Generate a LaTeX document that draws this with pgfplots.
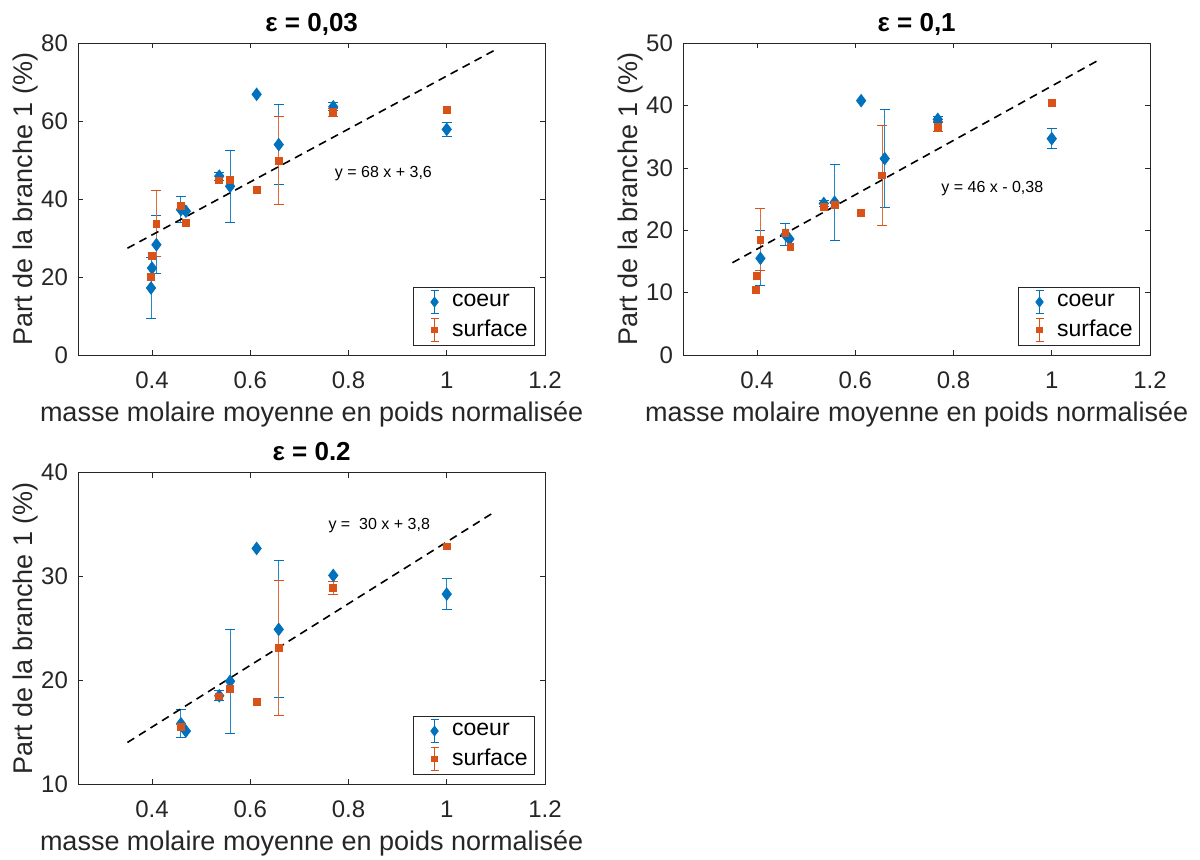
\documentclass[border=0pt]{standalone}
\usepackage{fontspec}
\setmainfont{Liberation Sans}
\usepackage{pgfplots}
\pgfplotsset{compat=1.18}
\definecolor{mblue}{RGB}{0,114,189}
\definecolor{morange}{RGB}{217,83,25}
\definecolor{axgray}{RGB}{38,38,38}

\tikzset{ann/.style={anchor=base west, font=\fontsize{8}{10}\selectfont, text=black}}
\pgfplotsset{
  myax/.style={
    scale only axis, width=233.35pt, height=155.85pt,
    xmin=0.25, xmax=1.2,
    xtick={0.4,0.6,0.8,1,1.2}, xticklabels={0.4,0.6,0.8,1,1.2},
    /pgf/number format/assume math mode=true,
    tick align=inside, major tick length=2.5pt,
    axis line style={axgray, line width=0.4pt},
    tick style={axgray, line width=0.4pt},
    ticklabel style={font=\fontsize{12}{14}\selectfont, text=axgray},
    xticklabel style={anchor=base, inner sep=0pt, yshift=-17pt},
    yticklabel style={anchor=east, inner sep=0pt, xshift=-5pt},
    every axis x label/.style={at={([yshift=-33.3pt]axis description cs:0.5,0)}, anchor=base, font=\fontsize{13.5}{16}\selectfont, text=axgray},
    every axis y label/.style={at={([xshift=-23pt]axis description cs:0,0.5)}, rotate=90, anchor=base, font=\fontsize{13.5}{16}\selectfont, text=axgray},
    every axis title/.style={at={([yshift=6pt]axis description cs:0.5,1)}, anchor=base, font=\bfseries\fontsize{13}{15}\selectfont, text=black},
    xlabel={masse molaire moyenne en poids normalisée},
    ylabel={Part de la branche 1 (\%)},
    legend style={at={([xshift=-5pt,yshift=4.5pt]axis description cs:1,0)}, anchor=south east,
      draw=axgray, line width=0.4pt, font=\fontsize{11.5}{13}\selectfont, text=black,
      inner xsep=2pt, inner ysep=1.5pt, row sep=1.5pt,
      nodes={inner sep=1.5pt}},
    legend cell align=left,
    legend image code/.code={
      \path (0cm,0cm) (0.55cm,0cm);
      \draw[#1, mark=none, solid, line width=0.5pt] (0.3cm,-0.2cm) -- (0.3cm,0.2cm);
      \draw[#1, mark=none, solid, line width=0.5pt] (0.23cm,-0.2cm) -- (0.37cm,-0.2cm) (0.23cm,0.2cm) -- (0.37cm,0.2cm);
      \draw[#1, mark size=0.8\pgfplotmarksize] plot coordinates {(0.3cm,0cm)};
    },
  },
  errb/.style={forget plot, draw=none, mark=none,
    error bars/.cd, y dir=both, y explicit,
    error bar style={draw=#1!85, solid, line width=0.5pt},
    error mark options={draw=#1, fill=none, rotate=90, mark size=2.5pt, line width=0.5pt}},
  coeurpl/.style={only marks, mark=diamond*, mark size=3.1pt, color=mblue, mark options={fill=mblue, draw=mblue}},
  surfpl/.style={only marks, mark=square*, mark size=1.7pt, color=morange, mark options={fill=morange, draw=morange}},
  fitline/.style={forget plot, black, line width=0.8pt, dash pattern=on 4pt off 2.8pt},
}

\begin{document}
\begin{tikzpicture}
\path[use as bounding box] (0,0) rectangle (600pt,430pt);

% ---------- eps = 0,03 ----------
\begin{axis}[myax, at={(39.15pt,252.5pt)}, anchor=south west,
  ymin=0, ymax=80, ytick={0,20,40,60,80}, title={ε = 0,03}]
\addplot[errb=mblue] coordinates {
  (0.398,17.2) +- (0,7.8)
  (0.409,28.3) +- (0,7.5)
  (0.459,37.3) +- (0,3.3)
  (0.537,45.9) +- (0,1.0)
  (0.559,43.3) +- (0,9.2)
  (0.658,54.0) +- (0,10.2)
  (0.769,63.7) +- (0,1.0)
  (1.000,57.9) +- (0,1.8)
};
\addplot[coeurpl] coordinates {
  (0.398,17.2) (0.400,22.3) (0.409,28.3) (0.459,37.3) (0.469,36.9)
  (0.537,45.9) (0.559,43.3) (0.613,66.9) (0.658,54.0) (0.769,63.7) (1.000,57.9)
};
\addplot[errb=morange] coordinates {
  (0.409,33.7) +- (0,8.4)
  (0.658,49.9) +- (0,11.3)
  (0.769,62.3) +- (0,1.0)
};
\addplot[surfpl] coordinates {
  (0.398,20.1) (0.400,25.4) (0.409,33.7) (0.459,38.3) (0.469,34.0)
  (0.537,44.8) (0.559,44.9) (0.613,42.4) (0.658,49.9) (0.769,62.3) (1.000,62.9)
};
\addplot[fitline] coordinates {(0.35,27.4) (1.1,78.4)};
\node[ann] at (axis cs:0.758,45.5) {y = 68 x + 3,6};
\legend{coeur,surface}
\end{axis}

% ---------- eps = 0,1 ----------
\begin{axis}[myax, at={(341.65pt,252.5pt)}, anchor=south west,
  ymin=0, ymax=50, ytick={0,10,20,30,40,50}, title={ε = 0,1}]
\addplot[errb=mblue] coordinates {
  (0.407,15.5) +- (0,4.4)
  (0.458,19.3) +- (0,1.8)
  (0.536,24.3) +- (0,0.5)
  (0.558,24.5) +- (0,6.1)
  (0.660,31.5) +- (0,7.8)
  (0.768,37.8) +- (0,0.5)
  (1.000,34.7) +- (0,1.65)
};
\addplot[coeurpl] coordinates {
  (0.407,15.5) (0.458,19.3) (0.466,18.6) (0.536,24.3) (0.558,24.5)
  (0.612,40.8) (0.660,31.5) (0.768,37.8) (1.000,34.7)
};
\addplot[errb=morange] coordinates {
  (0.407,18.5) +- (0,5.0)
  (0.655,28.8) +- (0,8.0)
  (0.768,36.6) +- (0,0.8)
};
\addplot[surfpl] coordinates {
  (0.397,10.5) (0.400,12.7) (0.407,18.5) (0.458,19.6) (0.468,17.3)
  (0.536,23.7) (0.558,24.1) (0.612,22.8) (0.655,28.8) (0.768,36.6) (1.000,40.5)
};
\addplot[fitline] coordinates {(0.35,14.8) (1.1,47.5)};
\node[ann] at (axis cs:0.761,26.0) {y = 46 x - 0,38};
\legend{coeur,surface}
\end{axis}

% ---------- eps = 0.2 ----------
\begin{axis}[myax, at={(39.15pt,38pt)}, anchor=south west, height=155.65pt,
  ymin=10, ymax=40, ytick={10,20,30,40}, title={ε = 0.2}]
\addplot[errb=mblue] coordinates {
  (0.459,15.8) +- (0,1.35)
  (0.537,18.5) +- (0,0.5)
  (0.559,19.9) +- (0,5.0)
  (0.658,24.9) +- (0,6.6)
  (1.000,28.3) +- (0,1.5)
};
\addplot[coeurpl] coordinates {
  (0.459,15.8) (0.469,15.1) (0.537,18.5) (0.559,19.9) (0.613,32.7)
  (0.658,24.9) (0.769,30.1) (1.000,28.3)
};
\addplot[errb=morange] coordinates {
  (0.658,23.1) +- (0,6.5)
  (0.769,28.9) +- (0,0.6)
};
\addplot[surfpl] coordinates {
  (0.459,15.5) (0.537,18.45) (0.559,19.2) (0.613,17.9) (0.658,23.1)
  (0.769,28.9) (1.000,32.9)
};
\addplot[fitline] coordinates {(0.35,14.0) (1.1,36.3)};
\node[ann] at (axis cs:0.745,34.5) {y =\ \ 30 x + 3,8};
\legend{coeur,surface}
\end{axis}
\end{tikzpicture}
\end{document}
